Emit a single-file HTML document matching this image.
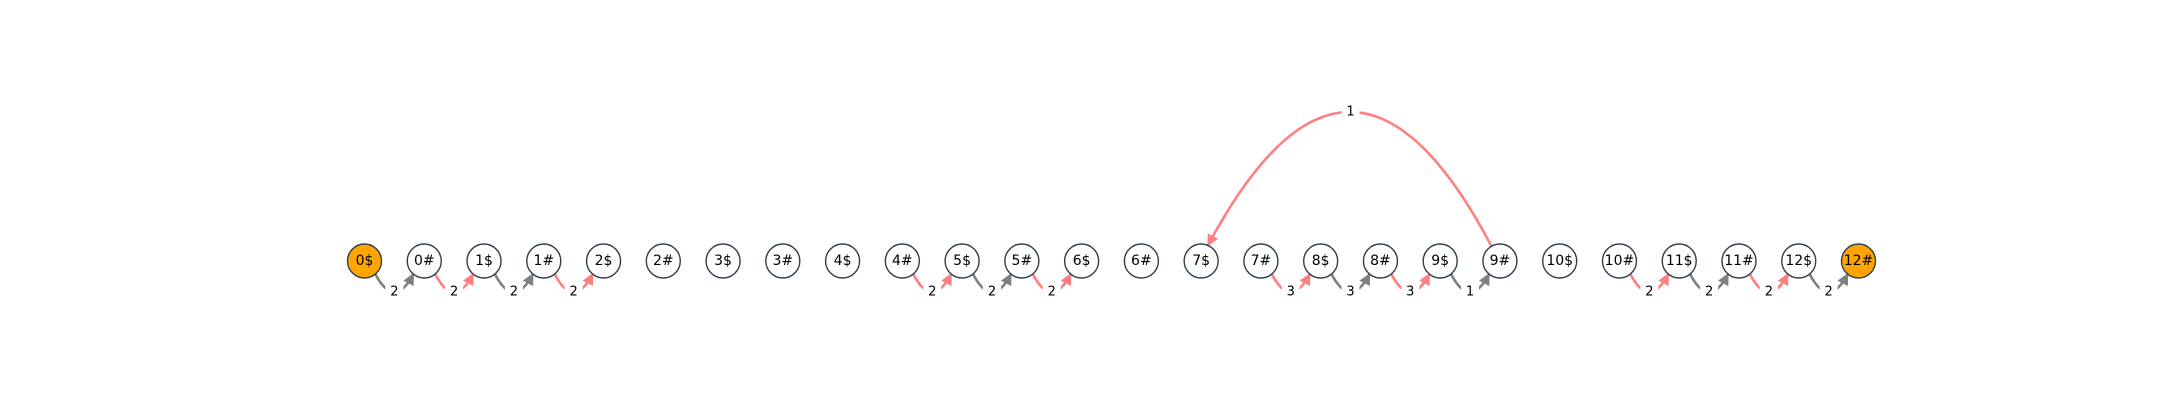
<!DOCTYPE html>
<html><head><meta charset="utf-8">
<style>
html,body{margin:0;padding:0;background:#fff;}
svg{display:block;font-family:"DejaVu Sans","Liberation Sans",sans-serif;}
</style></head>
<body>
<svg id="chart" width="2166" height="400" viewBox="0 0 2166 400">
<defs>
<marker id="ag" viewBox="0 0 10 10" refX="9" refY="5" markerWidth="4.5" markerHeight="4.5" orient="auto"><path d="M0,0 L10,5 L0,10 z" fill="#808080"/></marker>
<marker id="ar" viewBox="0 0 10 10" refX="9" refY="5" markerWidth="4.5" markerHeight="4.5" orient="auto"><path d="M0,0 L10,5 L0,10 z" fill="#ff7f7f"/></marker>
</defs>
<g id="edges"></g>
<g id="nodes"></g>
</svg>
<script>
const nodeLabels = ["0$","0#","1$","1#","2$","2#","3$","3#","4$","4#","5$","5#","6$","6#","7$","7#","8$","8#","9$","9#","10$","10#","11$","11#","12$","12#"];
const highlighted = ["0$","12#"];
const edgeSources = ["0$","0#","1$","1#","4#","5$","5#","7#","8$","8#","9$","10#","11$","11#","12$","9#"];
const edgeTargets = ["0#","1$","1#","2$","5$","5#","6$","8$","8#","9$","9#","11$","11#","12$","12#","7$"];
const edgeWeights = [2,2,2,2,2,2,2,3,3,3,1,2,2,2,2,1];

const NS="http://www.w3.org/2000/svg";
const X0=364.5, DX=59.76, Y=261, R=17;
function xPos(label){return X0+nodeLabels.indexOf(label)*DX;}
const eg=document.getElementById('edges'), ng=document.getElementById('nodes');

edgeSources.forEach((s,i)=>{
  const t=edgeTargets[i], w=edgeWeights[i];
  const x1=xPos(s), x2=xPos(t);
  const red=s.endsWith('#');
  const col=red?'#ff7f7f':'#808080';
  const p=document.createElementNS(NS,'path');
  let lx,ly,d;
  if(x2>x1){
    const sx=x1+R*0.64, sy=Y+R*0.77, ex=x2-R*0.64, ey=Y+R*0.77;
    const cx=(x1+x2)/2, cy=Y+49;
    d=`M${sx},${sy} Q${cx},${cy} ${ex},${ey}`;
    lx=cx; ly=(sy+ey)/4+cy/2;
  } else {
    const sx=x1-R*0.5, sy=Y-R*0.87, ex=x2+R*0.4, ey=Y-R*0.92;
    const cx=(x1+x2)/2, cy=-22;
    d=`M${sx},${sy} Q${cx},${cy} ${ex},${ey}`;
    lx=cx; ly=(sy+ey)/4+cy/2;
  }
  p.setAttribute('d',d);
  p.setAttribute('fill','none');
  p.setAttribute('stroke',col);
  p.setAttribute('stroke-width','2.6');
  p.setAttribute('marker-end',red?'url(#ar)':'url(#ag)');
  
  
  eg.appendChild(p);
  const bg=document.createElementNS(NS,'rect');
  bg.setAttribute('x',lx-9);bg.setAttribute('y',ly-9);
  bg.setAttribute('width',18);bg.setAttribute('height',18);
  bg.setAttribute('fill','#fff');
  
  
  eg.appendChild(bg);
  const tx=document.createElementNS(NS,'text');
  tx.setAttribute('x',lx);tx.setAttribute('y',ly);
  tx.setAttribute('text-anchor','middle');tx.setAttribute('dominant-baseline','central');
  tx.setAttribute('font-size','13');tx.setAttribute('fill','#000');
  tx.textContent=w;
  
  
  eg.appendChild(tx);
});

nodeLabels.forEach(l=>{
  const x=xPos(l);
  const c=document.createElementNS(NS,'circle');
  c.setAttribute('cx',x);c.setAttribute('cy',Y);c.setAttribute('r',R);
  c.setAttribute('fill',highlighted.includes(l)?'#ffa500':'#fff');
  c.setAttribute('stroke','#2f3f4f');c.setAttribute('stroke-width','1.4');
  
  
  ng.appendChild(c);
  const t=document.createElementNS(NS,'text');
  t.setAttribute('x',x);t.setAttribute('y',Y);
  t.setAttribute('text-anchor','middle');t.setAttribute('dominant-baseline','central');
  t.setAttribute('font-size','14');t.setAttribute('fill','#000');
  t.textContent=l;
  
  
  ng.appendChild(t);
});
</script>
</body></html>
